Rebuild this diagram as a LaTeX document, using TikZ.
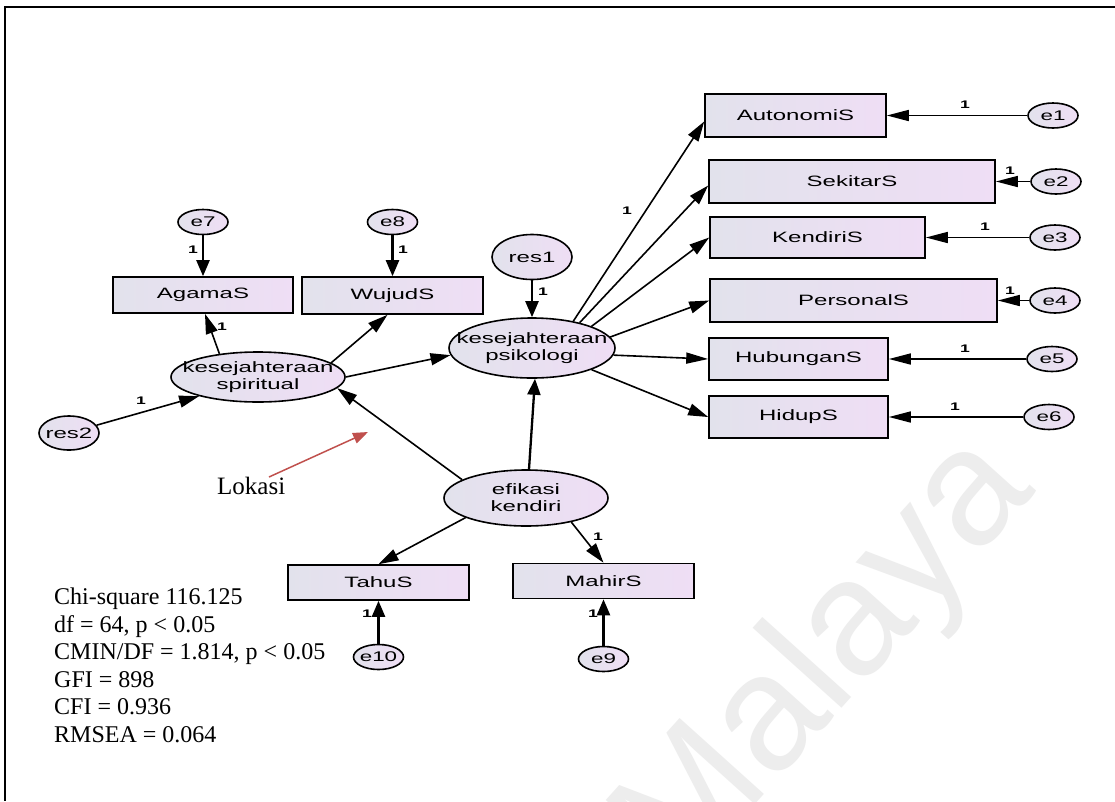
\documentclass[tikz,border=0pt]{standalone}
\usepackage{fontspec}
\setmainfont{Liberation Serif}
\newfontfamily\amos[FakeStretch=1.6]{Liberation Sans}
\newfontfamily\wmfont{Liberation Sans}
\usetikzlibrary{shapes.geometric,arrows.meta}
\definecolor{fillL}{RGB}{226,226,236}
\definecolor{fillR}{RGB}{239,222,245}
\definecolor{lokred}{RGB}{192,80,77}
\begin{document}
\begin{tikzpicture}[x=1pt,y=-1pt,
  obs/.style={rectangle, draw=black, line width=1.6pt, left color=fillL, right color=fillR,
    inner sep=0pt, font=\amos\fontsize{15}{17}\selectfont},
  lat/.style={ellipse, draw=black, line width=1.6pt, left color=fillL, right color=fillR, inner sep=0pt},
  errv/.style={lat, minimum width=50pt, minimum height=25pt},
  lab/.style={font=\amos\fontsize{15}{17}\selectfont, align=center, inner sep=0pt},
  elab/.style={font=\amos\fontsize{14}{16}\selectfont, inner sep=0pt},
  one/.style={font=\amos\bfseries\fontsize{11}{12}\selectfont, inner sep=0pt},
  conn/.style={draw=black, line width=1.6pt},
  harr/.style={conn, -{Triangle[length=22pt,width=11pt]}},
  varr/.style={conn, line width=2.3pt, -{Triangle[length=16pt,width=13pt]}},
  darr/.style={conn, -{Triangle[length=20pt,width=12pt]}},
  stat/.style={font=\fontsize{24}{27}\selectfont, anchor=base west, inner sep=0pt}
]
\useasboundingbox (0,0) rectangle (1115,801);
\fill[white] (0,0) rectangle (1115,801);

% watermark
\begin{scope}
  \clip (0,0) rectangle (1115,801);
  \node[font=\wmfont\fontsize{165}{165}\selectfont, text=black!7, rotate=48,
        anchor=base west, inner sep=0pt] (wm) at (681,887) {Malaya};
\end{scope}

% frame
\draw[line width=2pt] (4,7) -- (1115,7);
\draw[line width=2pt] (5,7) -- (5,801);

% observed indicators
\node[obs, minimum width=181pt, minimum height=43pt] (auto) at (795.5,115.5) {AutonomiS};
\node[obs, minimum width=286pt, minimum height=43pt] (sek)  at (852,181.5)   {SekitarS};
\node[obs, minimum width=215pt, minimum height=41pt] (ken)  at (817.5,237.5) {KendiriS};
\node[obs, minimum width=287pt, minimum height=43pt] (per)  at (853.5,300.5) {PersonalS};
\node[obs, minimum width=179pt, minimum height=42pt] (hub)  at (798.5,359)   {HubunganS};
\node[obs, minimum width=179pt, minimum height=42pt] (hid)  at (798.5,417)   {HidupS};
\node[obs, minimum width=180pt, minimum height=36pt] (aga)  at (203,295)     {AgamaS};
\node[obs, minimum width=181pt, minimum height=37pt] (wuj)  at (392.5,295.5) {WujudS};
\node[obs, minimum width=181pt, minimum height=35pt] (tah)  at (378.5,582.5) {TahuS};
\node[obs, minimum width=181pt, minimum height=35pt] (mah)  at (603.5,581)   {MahirS};

% latent variables
\node[lat, minimum width=174pt, minimum height=50pt] (spir) at (258,377) {};
\node[lab] (spirT) at (spir) {kesejahteraan\\spiritual};
\node[lat, minimum width=166pt, minimum height=60pt] (psi) at (532,348) {};
\node[lab] (psiT) at (psi) {kesejahteraan\\psikologi};
\node[lat, minimum width=164pt, minimum height=56pt] (efi) at (526,498) {};
\node[lab] (efiT) at (efi) {efikasi\\kendiri};

% residuals
\node[lat, minimum width=80pt, minimum height=45pt] (res1) at (532,257) {};
\node[lab] (res1T) at (res1) {res1};
\node[lat, minimum width=60pt, minimum height=34pt] (res2) at (69,433) {};
\node[lab] (res2T) at (res2) {res2};

% error terms
\node[errv] (e1) at (1053,115.5) {};  \node[elab] (e1T) at (e1) {e1};
\node[errv] (e2) at (1056,181.5) {};  \node[elab] (e2T) at (e2) {e2};
\node[errv] (e3) at (1055,237.5) {};  \node[elab] (e3T) at (e3) {e3};
\node[errv] (e4) at (1055,300.5) {};  \node[elab] (e4T) at (e4) {e4};
\node[errv] (e5) at (1052,359)   {};  \node[elab] (e5T) at (e5) {e5};
\node[errv] (e6) at (1049,417)   {};  \node[elab] (e6T) at (e6) {e6};
\node[errv] (e7) at (203,222)    {};  \node[elab] (e7T) at (e7) {e7};
\node[errv] (e8) at (392.5,222)  {};  \node[elab] (e8T) at (e8) {e8};
\node[errv] (e10) at (378.5,657) {};  \node[elab] (e10T) at (e10) {e10};
\node[errv] (e9) at (603.5,659)  {};  \node[elab] (e9T) at (e9) {e9};

% psikologi -> indicators
\draw[darr] (psi.33) -- ([yshift=-6pt]auto.west);
\draw[darr] (psi.28) -- ([yshift=-4pt]sek.west);
\draw[darr] (psi.20) -- (ken.west);
\draw[darr] (psi.8)  -- (per.west);
\draw[harr] (psi.-5) -- (hub.west);
\draw[darr] (psi.-20) -- (hid.west);

% errors -> right indicators
\draw[harr] (e1) -- (auto);
\draw[harr] (e2) -- (sek);
\draw[harr] (e3) -- (ken);
\draw[harr] (e4) -- (per);
\draw[harr] (e5) -- (hub);
\draw[harr] (e6) -- (hid);

% spiritual block
\draw[varr] (e7) -- (aga);
\draw[varr] (e8) -- (wuj);
\draw[darr] (spir.149) -- ([xshift=2pt]aga.south);
\draw[darr] (spir.11) -- ([xshift=-5pt]wuj.south);
\draw[darr] (spir.east) -- (psi.185);
\draw[darr] (res2) -- (spir.198);
\draw[varr] (res1) -- (psi);

% efikasi block
\draw[darr] (efi.164) -- (spir.-8);
\draw[varr] ([xshift=3pt]efi.north) -- ([xshift=3pt]psi.south);
\draw[darr] (efi.198) -- (tah.north);
\draw[darr] (efi.-28) -- (mah.north);
\draw[varr] (e10) -- (tah);
\draw[varr] (e9) -- (mah);

% fixed loadings
\node[one] (o1)  at (965,105)  {1};
\node[one] (o2)  at (1010,171) {1};
\node[one] (o3)  at (985,227)  {1};
\node[one] (o4)  at (1010,291) {1};
\node[one] (o5)  at (965,349)  {1};
\node[one] (o6)  at (955,407)  {1};
\node[one] (o7)  at (193,250)  {1};
\node[one] (o8)  at (403,250)  {1};
\node[one] (o9)  at (222,327)  {1};
\node[one] (o10) at (141,401)  {1};
\node[one] (o11) at (543,292)  {1};
\node[one] (o12) at (627,211)  {1};
\node[one] (o13) at (598,537)  {1};
\node[one] (o14) at (367,614)  {1};
\node[one] (o15) at (593,614)  {1};

% location annotation
\node[font=\fontsize{25}{28}\selectfont, anchor=base west, inner sep=0pt] (lok) at (217,494) {Lokasi};
\coordinate (lokTail) at (269,477);
\coordinate (lokHead) at (368,432);
\draw[lokred, line width=1.5pt, -{Triangle[length=15pt,width=11pt]}] (lokTail) -- (lokHead);

% fit statistics
\node[stat] (s1) at (54,604) {Chi-square 116.125};
\node[stat] (s2) at (54,632) {df = 64, p < 0.05};
\node[stat] (s3) at (54,659) {CMIN/DF = 1.814, p < 0.05};
\node[stat] (s4) at (54,687) {GFI = 898};
\node[stat] (s5) at (54,714) {CFI = 0.936};
\node[stat] (s6) at (54,742) {RMSEA = 0.064};
\end{tikzpicture}
\end{document}
